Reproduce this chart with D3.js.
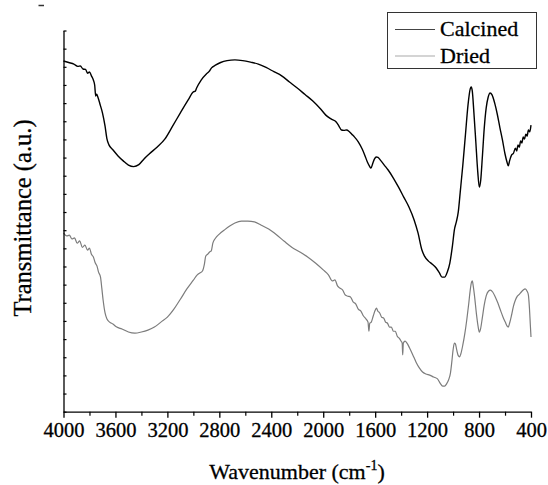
<!DOCTYPE html>
<html>
<head>
<meta charset="utf-8">
<script src="https://cdn.jsdelivr.net/npm/d3@7/dist/d3.min.js"></script>
<style>
  html, body { margin: 0; padding: 0; background: #fff; }
  svg { display: block; }
  text { font-family: "Liberation Serif", "Times New Roman", serif; fill: #000; stroke: #000; stroke-width: 0.3px; }
</style>
</head>
<body>
<svg id="chart" width="548" height="485"></svg>
<script>
// FTIR spectra: wavenumber (cm^-1) and transmittance (arbitrary units, offset traces)
const calcinedWn = [4000,3960,3920,3890,3870,3850,3830,3815,3800,3785,3770,3760,3752,3745,3735,3720,3700,3680,3665,3650,3620,3580,3540,3500,3460,3420,3380,3340,3280,3220,3160,3100,3040,3000,2985,2975,2940,2900,2880,2860,2830,2790,2740,2680,2620,2560,2500,2440,2380,2320,2260,2200,2140,2080,2020,1980,1940,1900,1880,1860,1840,1820,1800,1780,1760,1730,1700,1680,1660,1645,1632,1620,1605,1592,1578,1560,1530,1500,1460,1420,1380,1340,1300,1270,1240,1220,1190,1160,1130,1105,1085,1065,1045,1025,1005,990,975,960,945,925,905,885,868,860,852,840,825,810,798,787,775,760,745,730,715,700,680,660,640,620,600,585,575,565,550,535,520,510,500,490,480,470,460,450,440,430,420,410,400];
const calcinedT = [92.0,91.6,91.2,90.6,90.7,89.9,89.8,88.8,89.1,88.1,87.0,85.7,82.8,83.3,82.5,80.8,78.4,74.9,71.5,70.0,68.7,67.1,65.8,64.7,64.3,64.8,66.3,67.6,69.4,71.5,74.9,78.4,81.8,83.9,84.1,84.9,87.0,88.6,89.2,90.2,90.9,91.6,92.1,92.3,92.1,91.7,91.2,90.3,89.2,88.1,86.5,84.9,83.2,81.5,79.4,77.8,76.8,76.0,75.0,73.9,73.8,73.9,73.5,72.8,72.1,70.8,68.9,67.3,65.5,64.5,63.9,65.0,66.3,66.8,66.7,66.0,64.7,63.4,61.3,58.9,56.3,53.7,50.3,46.9,42.4,40.8,39.5,38.7,37.7,36.4,35.3,35.3,36.6,39.0,43.5,47.7,49.8,52.4,57.6,64.7,72.6,80.5,84.7,85.2,84.1,78.6,70.8,62.9,58.9,60.8,66.6,74.4,79.7,82.5,83.6,83.1,81.0,78.1,74.6,71.3,67.6,65.5,64.5,65.8,67.3,67.8,69.1,68.4,70.0,69.4,71.0,70.5,72.1,71.5,72.8,72.3,73.9,73.4,75.2];

const driedWn = [4000,3975,3955,3935,3915,3895,3875,3855,3835,3815,3800,3785,3770,3755,3742,3730,3715,3705,3695,3680,3665,3645,3620,3590,3550,3500,3450,3400,3350,3300,3250,3200,3150,3100,3050,3000,2970,2950,2930,2915,2905,2890,2875,2862,2850,2830,2800,2760,2720,2680,2630,2580,2530,2480,2420,2360,2300,2240,2180,2120,2060,2000,1960,1930,1910,1890,1870,1850,1830,1810,1790,1770,1750,1730,1710,1690,1670,1655,1648,1642,1630,1615,1600,1590,1580,1565,1550,1535,1520,1505,1490,1475,1460,1445,1430,1415,1400,1392,1388,1383,1370,1355,1335,1310,1285,1260,1235,1210,1180,1150,1120,1100,1080,1065,1050,1035,1020,1010,1000,990,982,972,960,950,940,925,910,895,880,868,858,852,845,835,820,808,798,788,775,760,745,728,712,695,675,655,635,615,598,585,575,565,550,535,520,505,490,475,460,445,430,420,412,405,400];
const driedT = [46.9,46.1,46.3,45.3,45.6,44.2,44.8,43.1,43.7,42.4,42.9,41.3,40.6,39.0,38.2,36.6,35.3,32.4,29.3,25.9,24.3,23.5,23.0,22.2,21.7,20.9,20.6,20.9,21.4,22.2,23.5,24.8,26.9,29.5,32.2,34.5,35.9,36.4,36.9,38.7,40.8,41.3,41.9,42.2,44.2,45.5,46.6,47.7,48.7,49.5,50.0,50.0,49.8,49.0,47.9,46.4,44.7,43.1,41.9,40.6,39.0,37.2,35.9,34.3,34.6,33.0,32.4,31.9,30.6,30.3,30.1,28.8,28.3,26.9,26.4,25.1,24.3,23.5,21.1,23.2,23.5,25.1,26.6,27.2,26.4,25.9,24.8,24.6,23.5,23.2,22.2,22.2,21.1,21.1,19.8,19.3,18.5,18.0,14.9,18.0,18.5,18.0,16.7,14.9,13.0,11.5,10.4,9.9,9.6,9.1,8.6,7.5,6.7,6.7,7.3,8.3,10.2,13.0,16.2,18.0,17.8,16.2,14.7,14.4,15.2,17.5,20.4,24.0,28.2,31.9,34.0,34.3,33.0,30.4,25.6,22.5,20.9,21.8,24.6,28.0,30.4,31.6,31.9,31.4,30.1,28.5,26.6,24.8,23.5,22.5,22.2,23.2,25.3,27.7,29.3,30.3,30.8,31.4,31.9,32.2,31.6,30.6,27.2,22.7,19.6];

const seriesNames = ["Calcined", "Dried"];
const seriesColors = ["#000000", "#7c7c7c"];
const seriesWidths = [1.4, 1.2];
const xMajorTicks = [4000,3600,3200,2800,2400,2000,1600,1200,800,400];
const xMinorTicks = [3800,3400,3000,2600,2200,1800,1400,1000,600];
const xTitle = "Wavenumber (cm";
const xTitleSup = "-1";
const yTitle = "Transmittance (a.u.)";

const svg = d3.select("#chart");
const plot = { left: 63.5, right: 531, top: 30.5, bottom: 411.7 };

const x = d3.scaleLinear().domain([4000, 400]).range([plot.left, plot.right]);
const y = d3.scaleLinear().domain([0, 100]).range([plot.bottom, plot.top]);
const yTickValues = d3.range(22).map(i => i * 100 / 21);

const series = [
  { name: seriesNames[0], color: seriesColors[0], width: seriesWidths[0], pts: calcinedWn.map((w, i) => [w, calcinedT[i]]) },
  { name: seriesNames[1], color: seriesColors[1], width: seriesWidths[1], pts: driedWn.map((w, i) => [w, driedT[i]]) }
];

const line = d3.line().x(d => x(d[0])).y(d => y(d[1])).curve(d3.curveMonotoneX);

// spectra (dried drawn first, calcined on top)
series.slice().reverse().forEach(s => {
  svg.append("path")
    .datum(s.pts)
    .attr("fill", "none")
    .attr("stroke", s.color)
    .attr("stroke-width", s.width)
    .attr("stroke-linejoin", "round")
    .attr("d", line);
});

// x axis: labelled major ticks and unlabelled minor ticks
const xAxisG = svg.append("g")
  .attr("transform", `translate(0,${plot.bottom})`)
  .call(d3.axisBottom(x).tickValues(xMajorTicks).tickSize(6).tickSizeOuter(0).tickPadding(5).tickFormat(d3.format("d")));
xAxisG.attr("font-family", null).attr("font-size", null);
xAxisG.select(".domain").attr("stroke", "#000").attr("stroke-width", 1.3);
xAxisG.selectAll(".tick line").attr("stroke", "#000").attr("stroke-width", 1.3);
xAxisG.selectAll(".tick text")
  .style("font-size", "20.5px").attr("fill", "#000");

const xMinorG = svg.append("g")
  .attr("transform", `translate(0,${plot.bottom})`)
  .call(d3.axisBottom(x).tickValues(xMinorTicks).tickSize(4).tickSizeOuter(0).tickFormat(""));
xMinorG.select(".domain").remove();
xMinorG.selectAll(".tick line").attr("stroke", "#000").attr("stroke-width", 1.2);

// y axis: unlabelled ticks pointing into the plot
const yAxisG = svg.append("g")
  .attr("transform", `translate(${plot.left},0)`)
  .call(d3.axisLeft(y).tickValues(yTickValues).tickSize(-3).tickSizeOuter(0).tickFormat(""));
yAxisG.select(".domain").attr("stroke", "#000").attr("stroke-width", 1.3);
yAxisG.selectAll(".tick line").attr("stroke", "#000").attr("stroke-width", 1.2);

// axis titles
const xt = svg.append("text")
  .attr("x", 297)
  .attr("y", 479)
  .attr("text-anchor", "middle")
  .style("font-size", "22px");
xt.append("tspan").text(xTitle);
xt.append("tspan").attr("dy", -9).style("font-size", "14px").text(xTitleSup);
xt.append("tspan").attr("dy", 9).text(")");

svg.append("text")
  .attr("transform", `translate(31,218) rotate(-90)`)
  .attr("text-anchor", "middle")
  .style("font-size", "24.5px")
  .text(yTitle);

// legend
const legend = svg.append("g");
legend.append("rect")
  .attr("x", 387.5).attr("y", 12.5).attr("width", 149).attr("height", 56)
  .attr("fill", "#fff").attr("stroke", "#333").attr("stroke-width", 1);
series.forEach((s, i) => {
  const ly = 29.5 + i * 26.5;
  legend.append("line")
    .attr("x1", 395).attr("x2", 435).attr("y1", ly).attr("y2", ly)
    .attr("stroke", i === 0 ? "#444" : "#aaa").attr("stroke-width", 1.2);
  legend.append("text")
    .attr("x", 440).attr("y", ly + 6.5)
    .style("font-size", "22px")
    .text(s.name);
});

// small stray mark at the top-left corner
svg.append("line")
  .attr("x1", 38.5).attr("x2", 44).attr("y1", 5.5).attr("y2", 5.5)
  .attr("stroke", "#333").attr("stroke-width", 1.5);
</script>
</body>
</html>
